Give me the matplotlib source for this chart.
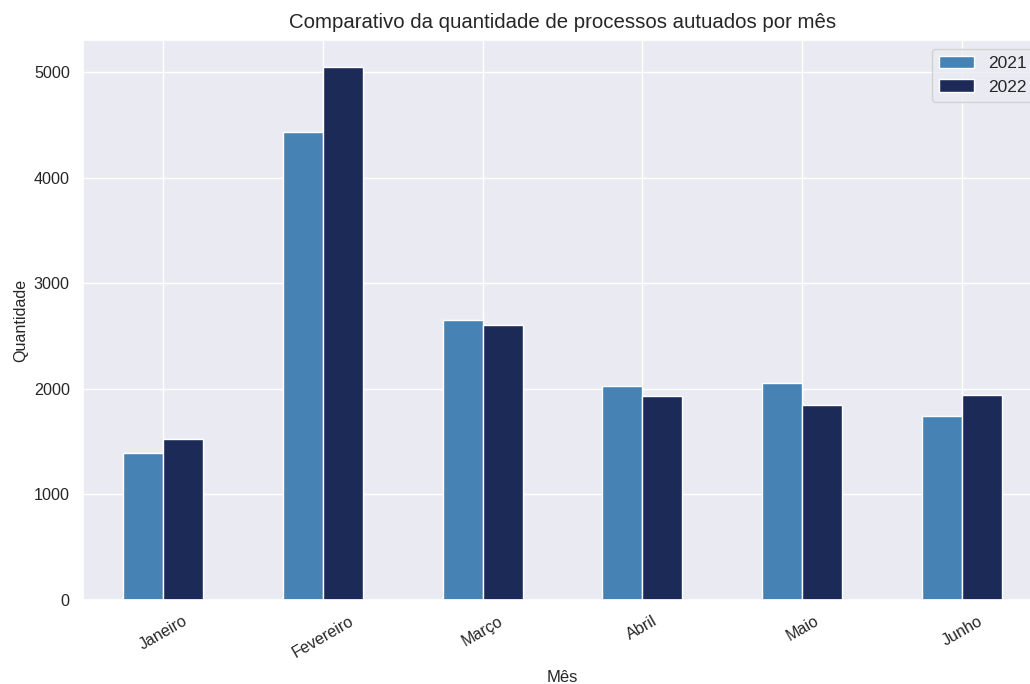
import matplotlib
matplotlib.use('Agg')
import matplotlib.pyplot as plt
import numpy as np
import seaborn as sns

sns.set_theme(style='darkgrid')
plt.rcParams['font.family'] = ['Liberation Sans', 'DejaVu Sans']

# Dados
meses = ['Janeiro', 'Fevereiro', 'Março', 'Abril', 'Maio', 'Junho']
anos = ['2021', '2022']
qtd_2021 = [1390, 4430, 2655, 2025, 2055, 1745]
qtd_2022 = [1525, 5050, 2605, 1935, 1845, 1940]
cores = ['steelblue', '#1b2a57']

fig = plt.figure(figsize=(10.3, 6.84), dpi=100)
ax = fig.add_axes([0.0806, 0.1228, 0.931, 0.8187])

x = np.arange(len(meses))
largura = 0.25
ax.bar(x - largura / 2, qtd_2021, width=largura, color=cores[0], label=anos[0])
ax.bar(x + largura / 2, qtd_2022, width=largura, color=cores[1], label=anos[1])

ax.set_xlim(-0.5, len(meses) - 0.5)
ax.set_xticks(x)
ax.set_xticklabels(meses, rotation=30)
ax.tick_params(labelsize=11.6)
ax.set_title('Comparativo da quantidade de processos autuados por mês', fontsize=14.7, pad=9)
ax.set_xlabel('Mês', fontsize=12, labelpad=7)
ax.set_ylabel('Quantidade', fontsize=11.6)
ax.legend(loc='upper right', fontsize=12.5)

plt.savefig('out.png', dpi=100)
plt.close()
